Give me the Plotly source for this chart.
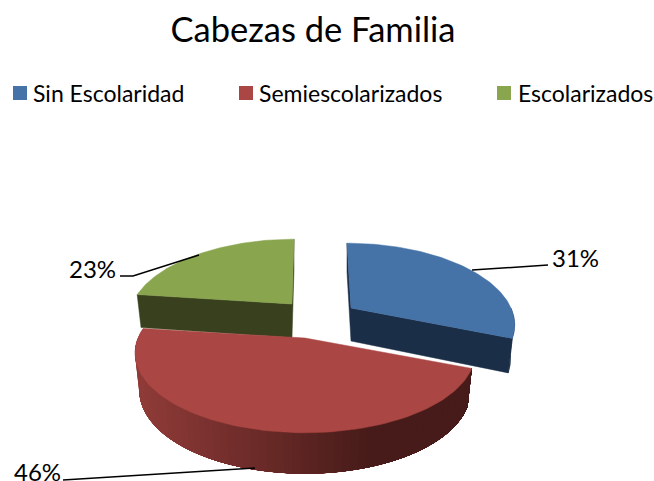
import numpy as np
import plotly.graph_objects as go

categories = ["Sin Escolaridad", "Semiescolarizados", "Escolarizados"]
percentages = [31, 46, 23]
top_colors = ["#4572A7", "#AA4643", "#89A54E"]
wall_colors = ["#1B2E47", None, "#38401E"]
title_text = "Cabezas de Familia"

FONT = "Lato, Carlito, Calibri, sans-serif"
W, H = 654, 481
# drawing constants: apex of each exploded slice, radius, lean, depth
APEX = [(351, 308), (305, 338), (292, 304)]
RADIUS = [160, 167, 160]
LEAN = [-4, 0, 2]
DEPTH = [33, 36.5, 33.5]
K, A = 0.1875, 77
BOTTOM_SCALE = 0.975


def project(i, theta, level=0.0):
    u, v = np.sin(theta), np.cos(theta)
    w = 1 + K * v
    sx = 1 - (1 - BOTTOM_SCALE) * level
    x = APEX[i][0] + (RADIUS[i] * u / w) * sx + LEAN[i] * v
    y = APEX[i][1] - A * v / w + level * DEPTH[i] * (1 - 0.12 * v)
    return x, y


edges = np.concatenate([[0], np.cumsum(percentages)]) / sum(percentages) * 2 * np.pi
fig = go.Figure()


def poly(xs, ys, color, lw=0.5):
    fig.add_trace(go.Scatter(x=list(xs), y=list(ys), mode="lines", fill="toself",
                             fillcolor=color, line=dict(color=color, width=lw),
                             showlegend=False, hoverinfo="skip"))


def arc(i, a, b, level=0.0, n=90):
    return project(i, np.linspace(a, b, n), level)


def draw_slice(i):
    a, b = edges[i], edges[i + 1]
    ax, ay = APEX[i]
    d = DEPTH[i]
    if i == 1:
        # outer wall of the front slice: painter-style shading, later strips overpaint earlier ones
        steps = np.linspace(b, a, 70)
        for t0 in steps[:-1]:
            x0, y0 = arc(i, t0, a, 0, 40)
            x1, y1 = arc(i, t0, a, 1, 40)
            f = np.clip((x0[0] - 140) / (370 - 140), 0, 1)
            c0, c1 = np.array([0x8F, 0x3B, 0x38]), np.array([0x46, 0x1B, 0x19])
            rgb = (c0 + (c1 - c0) * f).astype(int)
            poly(np.r_[x0, x1[::-1]], np.r_[y0, y1[::-1]], f"rgb({rgb[0]},{rgb[1]},{rgb[2]})", 0)
    else:
        if b > np.pi / 2 and a < np.pi / 2:
            x0, y0 = arc(i, np.pi / 2, b, 0, 30)
            x1, y1 = arc(i, np.pi / 2, b, 1, 30)
            poly(np.r_[x0, x1[::-1]], np.r_[y0, y1[::-1]], wall_colors[i])
        for t in (a, b):
            xe0, ye0 = project(i, t, 0)
            xe1, ye1 = project(i, t, 1)
            poly([ax, xe0, xe1, ax], [ay, ye0, ye1, ay + d], wall_colors[i])
    x, y = arc(i, a, b, 0)
    poly(np.r_[ax, x, ax], np.r_[ay, y, ay], top_colors[i])


for i in (2, 0, 1):
    draw_slice(i)

# leader lines
LEADERS = [([472, 530, 548], [270, 266, 265]),
           ([255, 63], [468, 480]),
           ([199, 133, 120], [255, 276, 276])]
for lx, ly in LEADERS:
    fig.add_trace(go.Scatter(x=lx, y=ly, mode="lines", line=dict(color="black", width=1.5),
                             showlegend=False, hoverinfo="skip"))

# percentage labels
LABEL_POS = [(552, 257), (14, 471), (69, 268)]
for (lx, ly), v in zip(LABEL_POS, percentages):
    fig.add_annotation(x=lx, y=ly, text=f"{v}%", showarrow=False, xanchor="left", yanchor="middle",
                       font=dict(family=FONT, size=24, color="black"), xshift=-2)

# legend row
LEG_X = [20, 246, 504]
LEG_TEXT_X = [33, 259, 518]
LEG_Y = 93
for x, tx, name, c in zip(LEG_X, LEG_TEXT_X, categories, top_colors):
    fig.add_trace(go.Scatter(x=[x], y=[LEG_Y], mode="markers", name=name, hoverinfo="name",
                             marker=dict(symbol="square", size=14, color=c, line=dict(width=0)),
                             showlegend=False))
    fig.add_annotation(x=tx, y=LEG_Y, text=name, showarrow=False, xanchor="left", yanchor="middle",
                       font=dict(family=FONT, size=23, color="black"), xshift=-2)

fig.update_layout(
    width=W, height=H, autosize=False,
    margin=dict(l=0, r=0, t=0, b=0),
    paper_bgcolor="white", plot_bgcolor="white",
    title=dict(text=title_text, x=313 / W, xanchor="center", y=1 - 30 / H, yanchor="middle",
               font=dict(family=FONT, size=34.5, color="black")),
    xaxis=dict(range=[0, W], visible=False, fixedrange=True),
    yaxis=dict(range=[H, 0], visible=False, fixedrange=True),
    showlegend=False,
)
fig.write_html("out.html", config={"displayModeBar": False},
               post_script="document.body.style.margin='0';document.body.style.overflow='hidden';")
